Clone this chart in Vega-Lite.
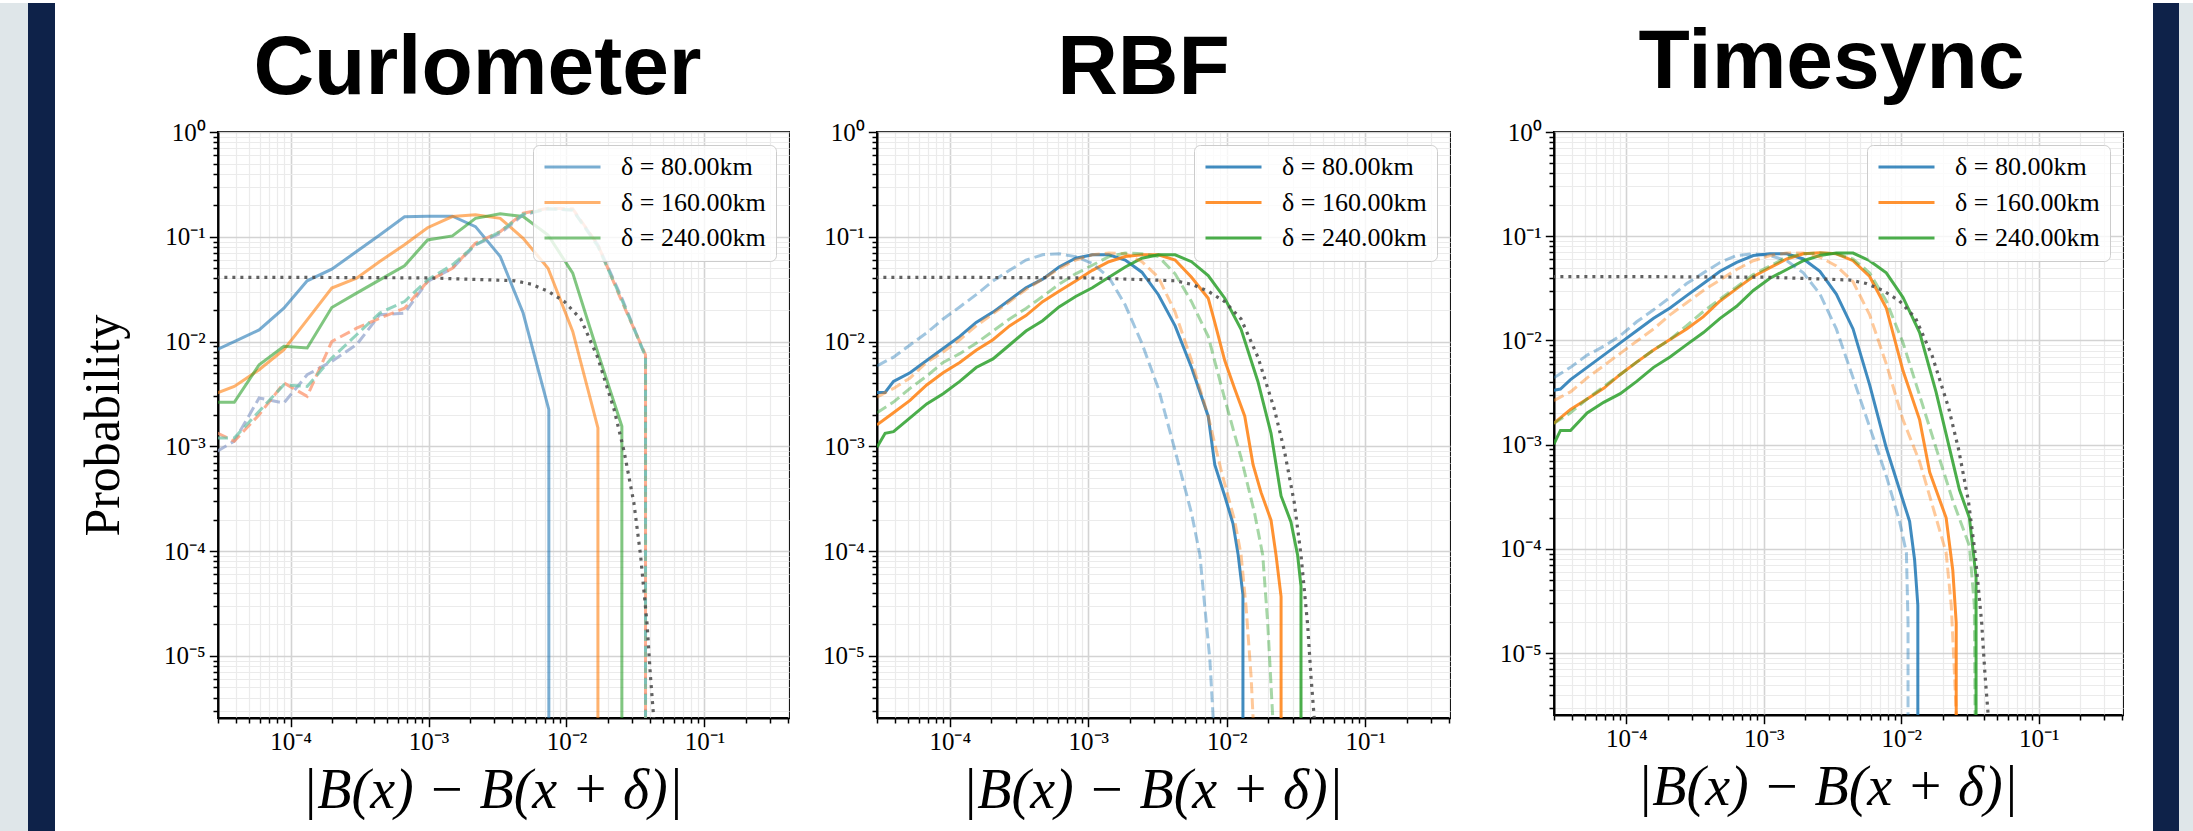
{
  "$schema": "https://vega.github.io/schema/vega-lite/v6.json",
  "padding": 0,
  "background": "white",
  "spacing": 0,
  "config": {"view": {"stroke": "black", "strokeWidth": 2}, "concat": {"spacing": 0}, "font": "Liberation Serif"},
  "resolve": {"scale": {"color": "independent", "stroke": "independent", "x": "independent", "y": "independent"}},
  "datasets": {
    "curves": [
      {"m":"ref","k":"r","d":"ref","x":2.9e-5,"y":0.041},{"m":"ref","k":"r","d":"ref","x":1e-4,"y":0.041},{"m":"ref","k":"r","d":"ref","x":1e-3,"y":0.0405},{"m":"ref","k":"r","d":"ref","x":2.44e-3,"y":0.039},{"m":"ref","k":"r","d":"ref","x":4.24e-3,"y":0.038},{"m":"ref","k":"r","d":"ref","x":5.57e-3,"y":0.0352},{"m":"ref","k":"r","d":"ref","x":7.35e-3,"y":0.0302},{"m":"ref","k":"r","d":"ref","x":9.68e-3,"y":0.024},{"m":"ref","k":"r","d":"ref","x":1.27e-2,"y":0.0164},{"m":"ref","k":"r","d":"ref","x":1.68e-2,"y":0.0071},{"m":"ref","k":"r","d":"ref","x":2.21e-2,"y":0.00226},{"m":"ref","k":"r","d":"ref","x":2.61e-2,"y":0.000906},{"m":"ref","k":"r","d":"ref","x":3.08e-2,"y":0.000288},{"m":"ref","k":"r","d":"ref","x":3.44e-2,"y":0.000092},{"m":"ref","k":"r","d":"ref","x":3.84e-2,"y":0.00002},{"m":"ref","k":"r","d":"ref","x":4.06e-2,"y":0.00000638},{"m":"ref","k":"r","d":"ref","x":4.35e-2,"y":0.000002},

      {"m":"C","k":"s","d":"80","x":2.93e-5,"y":8.36e-3},{"m":"C","k":"s","d":"80","x":3.91e-5,"y":1.0e-2},{"m":"C","k":"s","d":"80","x":5.92e-5,"y":1.29e-2},{"m":"C","k":"s","d":"80","x":8.95e-5,"y":2.08e-2},{"m":"C","k":"s","d":"80","x":1.32e-4,"y":3.8e-2},{"m":"C","k":"s","d":"80","x":1.99e-4,"y":4.91e-2},{"m":"C","k":"s","d":"80","x":3.01e-4,"y":7.23e-2},{"m":"C","k":"s","d":"80","x":4.43e-4,"y":0.104},{"m":"C","k":"s","d":"80","x":6.7e-4,"y":0.155},{"m":"C","k":"s","d":"80","x":9.84e-4,"y":0.157},{"m":"C","k":"s","d":"80","x":1.49e-3,"y":0.157},{"m":"C","k":"s","d":"80","x":2.19e-3,"y":0.125},{"m":"C","k":"s","d":"80","x":3.31e-3,"y":6.49e-2},{"m":"C","k":"s","d":"80","x":4.85e-3,"y":1.87e-2},{"m":"C","k":"s","d":"80","x":7.45e-3,"y":2.24e-3},{"m":"C","k":"s","d":"80","x":7.45e-3,"y":1e-7},

      {"m":"C","k":"s","d":"160","x":2.93e-5,"y":3.23e-3},{"m":"C","k":"s","d":"160","x":3.91e-5,"y":3.73e-3},{"m":"C","k":"s","d":"160","x":5.92e-5,"y":5.38e-3},{"m":"C","k":"s","d":"160","x":8.95e-5,"y":8.36e-3},{"m":"C","k":"s","d":"160","x":1.32e-4,"y":1.61e-2},{"m":"C","k":"s","d":"160","x":1.99e-4,"y":3.24e-2},{"m":"C","k":"s","d":"160","x":3.01e-4,"y":4.03e-2},{"m":"C","k":"s","d":"160","x":4.43e-4,"y":5.81e-2},{"m":"C","k":"s","d":"160","x":6.7e-4,"y":8.38e-2},{"m":"C","k":"s","d":"160","x":9.84e-4,"y":0.122},{"m":"C","k":"s","d":"160","x":1.49e-3,"y":0.156},{"m":"C","k":"s","d":"160","x":2.19e-3,"y":0.162},{"m":"C","k":"s","d":"160","x":3.31e-3,"y":0.15},{"m":"C","k":"s","d":"160","x":4.85e-3,"y":9.68e-2},{"m":"C","k":"s","d":"160","x":7.35e-3,"y":5.01e-2},{"m":"C","k":"s","d":"160","x":1.11e-2,"y":1.25e-2},{"m":"C","k":"s","d":"160","x":1.69e-2,"y":1.5e-3},{"m":"C","k":"s","d":"160","x":1.69e-2,"y":1e-7},

      {"m":"C","k":"s","d":"240","x":2.93e-5,"y":2.63e-3},{"m":"C","k":"s","d":"240","x":3.91e-5,"y":2.63e-3},{"m":"C","k":"s","d":"240","x":5.92e-5,"y":6.01e-3},{"m":"C","k":"s","d":"240","x":8.95e-5,"y":8.99e-3},{"m":"C","k":"s","d":"240","x":1.32e-4,"y":8.67e-3},{"m":"C","k":"s","d":"240","x":1.99e-4,"y":2.11e-2},{"m":"C","k":"s","d":"240","x":3.01e-4,"y":2.9e-2},{"m":"C","k":"s","d":"240","x":4.43e-4,"y":3.88e-2},{"m":"C","k":"s","d":"240","x":6.7e-4,"y":5.28e-2},{"m":"C","k":"s","d":"240","x":9.84e-4,"y":9.33e-2},{"m":"C","k":"s","d":"240","x":1.49e-3,"y":0.102},{"m":"C","k":"s","d":"240","x":2.19e-3,"y":0.15},{"m":"C","k":"s","d":"240","x":3.31e-3,"y":0.166},{"m":"C","k":"s","d":"240","x":4.85e-3,"y":0.156},{"m":"C","k":"s","d":"240","x":7.35e-3,"y":0.104},{"m":"C","k":"s","d":"240","x":1.11e-2,"y":4.5e-2},{"m":"C","k":"s","d":"240","x":1.69e-2,"y":7.76e-3},{"m":"C","k":"s","d":"240","x":2.52e-2,"y":1.55e-3},{"m":"C","k":"s","d":"240","x":2.52e-2,"y":1e-7},

      {"m":"C","k":"d","d":"80","x":2.93e-5,"y":8.97e-4},{"m":"C","k":"d","d":"80","x":3.91e-5,"y":1.12e-3},{"m":"C","k":"d","d":"80","x":5.92e-5,"y":2.89e-3},{"m":"C","k":"d","d":"80","x":8.95e-5,"y":2.59e-3},{"m":"C","k":"d","d":"80","x":1.32e-4,"y":4.82e-3},{"m":"C","k":"d","d":"80","x":1.99e-4,"y":6.47e-3},{"m":"C","k":"d","d":"80","x":3.01e-4,"y":9.33e-3},{"m":"C","k":"d","d":"80","x":4.43e-4,"y":1.8e-2},{"m":"C","k":"d","d":"80","x":6.7e-4,"y":1.87e-2},{"m":"C","k":"d","d":"80","x":9.84e-4,"y":3.74e-2},{"m":"C","k":"d","d":"80","x":1.49e-3,"y":5.01e-2},{"m":"C","k":"d","d":"80","x":2.19e-3,"y":8.38e-2},{"m":"C","k":"d","d":"80","x":3.31e-3,"y":0.108},{"m":"C","k":"d","d":"80","x":4.85e-3,"y":0.162},{"m":"C","k":"d","d":"80","x":7.35e-3,"y":0.185},{"m":"C","k":"d","d":"80","x":1.11e-2,"y":0.18},{"m":"C","k":"d","d":"80","x":1.69e-2,"y":8.38e-2},{"m":"C","k":"d","d":"80","x":2.52e-2,"y":2.6e-2},{"m":"C","k":"d","d":"80","x":3.74e-2,"y":7.21e-3},{"m":"C","k":"d","d":"80","x":3.74e-2,"y":1e-7},

      {"m":"C","k":"d","d":"160","x":2.93e-5,"y":1.34e-3},{"m":"C","k":"d","d":"160","x":3.91e-5,"y":1.12e-3},{"m":"C","k":"d","d":"160","x":5.92e-5,"y":2.0e-3},{"m":"C","k":"d","d":"160","x":8.95e-5,"y":4.02e-3},{"m":"C","k":"d","d":"160","x":1.32e-4,"y":3.0e-3},{"m":"C","k":"d","d":"160","x":1.99e-4,"y":1.0e-2},{"m":"C","k":"d","d":"160","x":3.01e-4,"y":1.34e-2},{"m":"C","k":"d","d":"160","x":4.43e-4,"y":1.67e-2},{"m":"C","k":"d","d":"160","x":6.7e-4,"y":2.08e-2},{"m":"C","k":"d","d":"160","x":9.84e-4,"y":3.74e-2},{"m":"C","k":"d","d":"160","x":1.49e-3,"y":5.01e-2},{"m":"C","k":"d","d":"160","x":2.19e-3,"y":8.69e-2},{"m":"C","k":"d","d":"160","x":3.31e-3,"y":0.112},{"m":"C","k":"d","d":"160","x":4.85e-3,"y":0.168},{"m":"C","k":"d","d":"160","x":7.35e-3,"y":0.187},{"m":"C","k":"d","d":"160","x":1.11e-2,"y":0.185},{"m":"C","k":"d","d":"160","x":1.69e-2,"y":8.38e-2},{"m":"C","k":"d","d":"160","x":2.52e-2,"y":2.41e-2},{"m":"C","k":"d","d":"160","x":3.74e-2,"y":7.48e-3},{"m":"C","k":"d","d":"160","x":3.74e-2,"y":1e-7},

      {"m":"C","k":"d","d":"240","x":2.93e-5,"y":1.2e-3},{"m":"C","k":"d","d":"240","x":3.91e-5,"y":1.2e-3},{"m":"C","k":"d","d":"240","x":5.92e-5,"y":2.16e-3},{"m":"C","k":"d","d":"240","x":8.95e-5,"y":3.87e-3},{"m":"C","k":"d","d":"240","x":1.32e-4,"y":3.73e-3},{"m":"C","k":"d","d":"240","x":1.99e-4,"y":6.95e-3},{"m":"C","k":"d","d":"240","x":3.01e-4,"y":1.16e-2},{"m":"C","k":"d","d":"240","x":4.43e-4,"y":1.87e-2},{"m":"C","k":"d","d":"240","x":6.7e-4,"y":2.41e-2},{"m":"C","k":"d","d":"240","x":9.84e-4,"y":3.88e-2},{"m":"C","k":"d","d":"240","x":1.49e-3,"y":5.4e-2},{"m":"C","k":"d","d":"240","x":2.19e-3,"y":8.38e-2},{"m":"C","k":"d","d":"240","x":3.31e-3,"y":0.112},{"m":"C","k":"d","d":"240","x":4.85e-3,"y":0.164},{"m":"C","k":"d","d":"240","x":7.35e-3,"y":0.185},{"m":"C","k":"d","d":"240","x":1.11e-2,"y":0.18},{"m":"C","k":"d","d":"240","x":1.69e-2,"y":8.07e-2},{"m":"C","k":"d","d":"240","x":2.52e-2,"y":2.5e-2},{"m":"C","k":"d","d":"240","x":3.74e-2,"y":7.21e-3},{"m":"C","k":"d","d":"240","x":3.74e-2,"y":1e-7},

      {"m":"R","k":"s","d":"80","x":2.98e-5,"y":3.26e-3},{"m":"R","k":"s","d":"80","x":3.41e-5,"y":3.26e-3},{"m":"R","k":"s","d":"80","x":3.92e-5,"y":4.16e-3},{"m":"R","k":"s","d":"80","x":5.16e-5,"y":5.04e-3},{"m":"R","k":"s","d":"80","x":6.81e-5,"y":6.58e-3},{"m":"R","k":"s","d":"80","x":8.95e-5,"y":8.59e-3},{"m":"R","k":"s","d":"80","x":1.18e-4,"y":1.12e-2},{"m":"R","k":"s","d":"80","x":1.55e-4,"y":1.52e-2},{"m":"R","k":"s","d":"80","x":2.05e-4,"y":1.91e-2},{"m":"R","k":"s","d":"80","x":2.7e-4,"y":2.49e-2},{"m":"R","k":"s","d":"80","x":3.55e-4,"y":3.26e-2},{"m":"R","k":"s","d":"80","x":4.68e-4,"y":3.94e-2},{"m":"R","k":"s","d":"80","x":6.15e-4,"y":5.15e-2},{"m":"R","k":"s","d":"80","x":8.11e-4,"y":6.24e-2},{"m":"R","k":"s","d":"80","x":1.07e-3,"y":6.73e-2},{"m":"R","k":"s","d":"80","x":1.41e-3,"y":6.73e-2},{"m":"R","k":"s","d":"80","x":1.85e-3,"y":6.0e-2},{"m":"R","k":"s","d":"80","x":2.44e-3,"y":4.59e-2},{"m":"R","k":"s","d":"80","x":3.21e-3,"y":2.8e-2},{"m":"R","k":"s","d":"80","x":4.24e-3,"y":1.41e-2},{"m":"R","k":"s","d":"80","x":5.57e-3,"y":5.65e-3},{"m":"R","k":"s","d":"80","x":7.35e-3,"y":1.94e-3},{"m":"R","k":"s","d":"80","x":8.2e-3,"y":6.68e-4},{"m":"R","k":"s","d":"80","x":9.68e-3,"y":3.36e-4},{"m":"R","k":"s","d":"80","x":1.11e-2,"y":1.83e-4},{"m":"R","k":"s","d":"80","x":1.21e-2,"y":9.2e-5},{"m":"R","k":"s","d":"80","x":1.31e-2,"y":3.83e-5},{"m":"R","k":"s","d":"80","x":1.31e-2,"y":1e-7},

      {"m":"R","k":"s","d":"160","x":2.98e-5,"y":1.6e-3},{"m":"R","k":"s","d":"160","x":3.92e-5,"y":2.09e-3},{"m":"R","k":"s","d":"160","x":5.16e-5,"y":2.74e-3},{"m":"R","k":"s","d":"160","x":6.81e-5,"y":3.85e-3},{"m":"R","k":"s","d":"160","x":8.95e-5,"y":5.04e-3},{"m":"R","k":"s","d":"160","x":1.18e-4,"y":6.32e-3},{"m":"R","k":"s","d":"160","x":1.55e-4,"y":8.26e-3},{"m":"R","k":"s","d":"160","x":2.05e-4,"y":1.04e-2},{"m":"R","k":"s","d":"160","x":2.7e-4,"y":1.41e-2},{"m":"R","k":"s","d":"160","x":3.55e-4,"y":1.77e-2},{"m":"R","k":"s","d":"160","x":4.68e-4,"y":2.4e-2},{"m":"R","k":"s","d":"160","x":6.15e-4,"y":3.02e-2},{"m":"R","k":"s","d":"160","x":8.11e-4,"y":3.79e-2},{"m":"R","k":"s","d":"160","x":1.07e-3,"y":4.78e-2},{"m":"R","k":"s","d":"160","x":1.41e-3,"y":5.78e-2},{"m":"R","k":"s","d":"160","x":1.85e-3,"y":6.47e-2},{"m":"R","k":"s","d":"160","x":2.44e-3,"y":6.73e-2},{"m":"R","k":"s","d":"160","x":3.21e-3,"y":6.73e-2},{"m":"R","k":"s","d":"160","x":4.24e-3,"y":6.0e-2},{"m":"R","k":"s","d":"160","x":5.57e-3,"y":4.1e-2},{"m":"R","k":"s","d":"160","x":7.35e-3,"y":2.59e-2},{"m":"R","k":"s","d":"160","x":8.2e-3,"y":1.52e-2},{"m":"R","k":"s","d":"160","x":9.68e-3,"y":6.58e-3},{"m":"R","k":"s","d":"160","x":1.14e-2,"y":3.57e-3},{"m":"R","k":"s","d":"160","x":1.35e-2,"y":1.94e-3},{"m":"R","k":"s","d":"160","x":1.55e-2,"y":6.68e-4},{"m":"R","k":"s","d":"160","x":1.77e-2,"y":3.63e-4},{"m":"R","k":"s","d":"160","x":2.09e-2,"y":1.97e-4},{"m":"R","k":"s","d":"160","x":2.27e-2,"y":9.2e-5},{"m":"R","k":"s","d":"160","x":2.47e-2,"y":3.68e-5},{"m":"R","k":"s","d":"160","x":2.47e-2,"y":1e-7},

      {"m":"R","k":"s","d":"240","x":2.98e-5,"y":9.77e-4},{"m":"R","k":"s","d":"240","x":3.41e-5,"y":1.33e-3},{"m":"R","k":"s","d":"240","x":3.92e-5,"y":1.38e-3},{"m":"R","k":"s","d":"240","x":5.16e-5,"y":1.87e-3},{"m":"R","k":"s","d":"240","x":6.81e-5,"y":2.54e-3},{"m":"R","k":"s","d":"240","x":8.95e-5,"y":3.18e-3},{"m":"R","k":"s","d":"240","x":1.18e-4,"y":4.16e-3},{"m":"R","k":"s","d":"240","x":1.55e-4,"y":5.65e-3},{"m":"R","k":"s","d":"240","x":2.05e-4,"y":6.82e-3},{"m":"R","k":"s","d":"240","x":2.7e-4,"y":9.27e-3},{"m":"R","k":"s","d":"240","x":3.55e-4,"y":1.26e-2},{"m":"R","k":"s","d":"240","x":4.68e-4,"y":1.58e-2},{"m":"R","k":"s","d":"240","x":6.15e-4,"y":2.14e-2},{"m":"R","k":"s","d":"240","x":8.11e-4,"y":2.69e-2},{"m":"R","k":"s","d":"240","x":1.07e-3,"y":3.26e-2},{"m":"R","k":"s","d":"240","x":1.41e-3,"y":4.1e-2},{"m":"R","k":"s","d":"240","x":1.85e-3,"y":5.15e-2},{"m":"R","k":"s","d":"240","x":2.44e-3,"y":6.24e-2},{"m":"R","k":"s","d":"240","x":3.21e-3,"y":6.73e-2},{"m":"R","k":"s","d":"240","x":4.24e-3,"y":6.73e-2},{"m":"R","k":"s","d":"240","x":5.57e-3,"y":5.78e-2},{"m":"R","k":"s","d":"240","x":7.35e-3,"y":4.26e-2},{"m":"R","k":"s","d":"240","x":9.68e-3,"y":2.59e-2},{"m":"R","k":"s","d":"240","x":1.27e-2,"y":1.31e-2},{"m":"R","k":"s","d":"240","x":1.68e-2,"y":4.16e-3},{"m":"R","k":"s","d":"240","x":2.09e-2,"y":1.33e-3},{"m":"R","k":"s","d":"240","x":2.47e-2,"y":3.36e-4},{"m":"R","k":"s","d":"240","x":2.91e-2,"y":1.9e-4},{"m":"R","k":"s","d":"240","x":3.25e-2,"y":9.2e-5},{"m":"R","k":"s","d":"240","x":3.44e-2,"y":4.63e-5},{"m":"R","k":"s","d":"240","x":3.44e-2,"y":1e-7},

      {"m":"R","k":"d","d":"80","x":2.98e-5,"y":5.86e-3},{"m":"R","k":"d","d":"80","x":3.92e-5,"y":7.1e-3},{"m":"R","k":"d","d":"80","x":5.16e-5,"y":9.27e-3},{"m":"R","k":"d","d":"80","x":6.81e-5,"y":1.21e-2},{"m":"R","k":"d","d":"80","x":8.95e-5,"y":1.64e-2},{"m":"R","k":"d","d":"80","x":1.18e-4,"y":2.14e-2},{"m":"R","k":"d","d":"80","x":1.55e-4,"y":2.8e-2},{"m":"R","k":"d","d":"80","x":2.05e-4,"y":3.79e-2},{"m":"R","k":"d","d":"80","x":2.7e-4,"y":4.78e-2},{"m":"R","k":"d","d":"80","x":3.55e-4,"y":6.0e-2},{"m":"R","k":"d","d":"80","x":4.68e-4,"y":6.73e-2},{"m":"R","k":"d","d":"80","x":6.15e-4,"y":6.89e-2},{"m":"R","k":"d","d":"80","x":8.11e-4,"y":6.47e-2},{"m":"R","k":"d","d":"80","x":1.07e-3,"y":5.56e-2},{"m":"R","k":"d","d":"80","x":1.41e-3,"y":4.1e-2},{"m":"R","k":"d","d":"80","x":1.85e-3,"y":2.23e-2},{"m":"R","k":"d","d":"80","x":2.44e-3,"y":9.62e-3},{"m":"R","k":"d","d":"80","x":3.21e-3,"y":3.57e-3},{"m":"R","k":"d","d":"80","x":4.24e-3,"y":9.06e-4},{"m":"R","k":"d","d":"80","x":5.57e-3,"y":2.3e-4},{"m":"R","k":"d","d":"80","x":6.4e-3,"y":9.2e-5},{"m":"R","k":"d","d":"80","x":6.95e-3,"y":2.93e-5},{"m":"R","k":"d","d":"80","x":7.55e-3,"y":9.33e-6},{"m":"R","k":"d","d":"80","x":7.98e-3,"y":2.6e-6},{"m":"R","k":"d","d":"80","x":8.0e-3,"y":1e-7},

      {"m":"R","k":"d","d":"160","x":2.98e-5,"y":2.95e-3},{"m":"R","k":"d","d":"160","x":3.92e-5,"y":3.57e-3},{"m":"R","k":"d","d":"160","x":5.16e-5,"y":4.49e-3},{"m":"R","k":"d","d":"160","x":6.81e-5,"y":6.32e-3},{"m":"R","k":"d","d":"160","x":8.95e-5,"y":7.96e-3},{"m":"R","k":"d","d":"160","x":1.18e-4,"y":1.04e-2},{"m":"R","k":"d","d":"160","x":1.55e-4,"y":1.41e-2},{"m":"R","k":"d","d":"160","x":2.05e-4,"y":1.84e-2},{"m":"R","k":"d","d":"160","x":2.7e-4,"y":2.4e-2},{"m":"R","k":"d","d":"160","x":3.55e-4,"y":3.14e-2},{"m":"R","k":"d","d":"160","x":4.68e-4,"y":3.94e-2},{"m":"R","k":"d","d":"160","x":6.15e-4,"y":4.95e-2},{"m":"R","k":"d","d":"160","x":8.11e-4,"y":6.0e-2},{"m":"R","k":"d","d":"160","x":1.07e-3,"y":6.73e-2},{"m":"R","k":"d","d":"160","x":1.41e-3,"y":6.98e-2},{"m":"R","k":"d","d":"160","x":1.85e-3,"y":6.89e-2},{"m":"R","k":"d","d":"160","x":2.44e-3,"y":5.78e-2},{"m":"R","k":"d","d":"160","x":3.21e-3,"y":4.1e-2},{"m":"R","k":"d","d":"160","x":4.24e-3,"y":1.91e-2},{"m":"R","k":"d","d":"160","x":5.57e-3,"y":6.58e-3},{"m":"R","k":"d","d":"160","x":7.35e-3,"y":1.94e-3},{"m":"R","k":"d","d":"160","x":9.16e-3,"y":5.73e-4},{"m":"R","k":"d","d":"160","x":1.14e-2,"y":1.97e-4},{"m":"R","k":"d","d":"160","x":1.27e-2,"y":9.2e-5},{"m":"R","k":"d","d":"160","x":1.38e-2,"y":2.93e-5},{"m":"R","k":"d","d":"160","x":1.5e-2,"y":6.38e-6},{"m":"R","k":"d","d":"160","x":1.55e-2,"y":2.6e-6},{"m":"R","k":"d","d":"160","x":1.55e-2,"y":1e-7},

      {"m":"R","k":"d","d":"240","x":2.98e-5,"y":2.09e-3},{"m":"R","k":"d","d":"240","x":3.92e-5,"y":2.64e-3},{"m":"R","k":"d","d":"240","x":5.16e-5,"y":3.57e-3},{"m":"R","k":"d","d":"240","x":6.81e-5,"y":4.67e-3},{"m":"R","k":"d","d":"240","x":8.95e-5,"y":6.32e-3},{"m":"R","k":"d","d":"240","x":1.18e-4,"y":7.66e-3},{"m":"R","k":"d","d":"240","x":1.55e-4,"y":9.62e-3},{"m":"R","k":"d","d":"240","x":2.05e-4,"y":1.26e-2},{"m":"R","k":"d","d":"240","x":2.7e-4,"y":1.64e-2},{"m":"R","k":"d","d":"240","x":3.55e-4,"y":2.07e-2},{"m":"R","k":"d","d":"240","x":4.68e-4,"y":2.69e-2},{"m":"R","k":"d","d":"240","x":6.15e-4,"y":3.52e-2},{"m":"R","k":"d","d":"240","x":8.11e-4,"y":4.43e-2},{"m":"R","k":"d","d":"240","x":1.07e-3,"y":5.35e-2},{"m":"R","k":"d","d":"240","x":1.41e-3,"y":6.47e-2},{"m":"R","k":"d","d":"240","x":1.85e-3,"y":6.98e-2},{"m":"R","k":"d","d":"240","x":2.44e-3,"y":6.89e-2},{"m":"R","k":"d","d":"240","x":3.21e-3,"y":6.47e-2},{"m":"R","k":"d","d":"240","x":4.24e-3,"y":4.43e-2},{"m":"R","k":"d","d":"240","x":5.57e-3,"y":2.4e-2},{"m":"R","k":"d","d":"240","x":7.35e-3,"y":1.12e-2},{"m":"R","k":"d","d":"240","x":9.68e-3,"y":2.84e-3},{"m":"R","k":"d","d":"240","x":1.27e-2,"y":7.78e-4},{"m":"R","k":"d","d":"240","x":1.59e-2,"y":2.3e-4},{"m":"R","k":"d","d":"240","x":1.82e-2,"y":9.2e-5},{"m":"R","k":"d","d":"240","x":1.98e-2,"y":2.0e-5},{"m":"R","k":"d","d":"240","x":2.15e-2,"y":2.6e-6},{"m":"R","k":"d","d":"240","x":2.15e-2,"y":1e-7},

      {"m":"T","k":"s","d":"80","x":2.97e-5,"y":3.33e-3},{"m":"T","k":"s","d":"80","x":3.32e-5,"y":3.42e-3},{"m":"T","k":"s","d":"80","x":3.93e-5,"y":4.21e-3},{"m":"T","k":"s","d":"80","x":5.19e-5,"y":5.52e-3},{"m":"T","k":"s","d":"80","x":6.85e-5,"y":7.23e-3},{"m":"T","k":"s","d":"80","x":9.04e-5,"y":9.48e-3},{"m":"T","k":"s","d":"80","x":1.19e-4,"y":1.24e-2},{"m":"T","k":"s","d":"80","x":1.58e-4,"y":1.63e-2},{"m":"T","k":"s","d":"80","x":2.08e-4,"y":2.05e-2},{"m":"T","k":"s","d":"80","x":2.75e-4,"y":2.69e-2},{"m":"T","k":"s","d":"80","x":3.64e-4,"y":3.52e-2},{"m":"T","k":"s","d":"80","x":4.81e-4,"y":4.61e-2},{"m":"T","k":"s","d":"80","x":6.35e-4,"y":5.6e-2},{"m":"T","k":"s","d":"80","x":8.39e-4,"y":6.53e-2},{"m":"T","k":"s","d":"80","x":1.11e-3,"y":6.79e-2},{"m":"T","k":"s","d":"80","x":1.47e-3,"y":6.79e-2},{"m":"T","k":"s","d":"80","x":1.94e-3,"y":6.05e-2},{"m":"T","k":"s","d":"80","x":2.56e-3,"y":4.61e-2},{"m":"T","k":"s","d":"80","x":3.37e-3,"y":2.79e-2},{"m":"T","k":"s","d":"80","x":4.46e-3,"y":1.29e-2},{"m":"T","k":"s","d":"80","x":5.89e-3,"y":3.75e-3},{"m":"T","k":"s","d":"80","x":7.78e-3,"y":9.33e-4},{"m":"T","k":"s","d":"80","x":9.72e-3,"y":3.69e-4},{"m":"T","k":"s","d":"80","x":1.15e-2,"y":1.84e-4},{"m":"T","k":"s","d":"80","x":1.25e-2,"y":7.87e-5},{"m":"T","k":"s","d":"80","x":1.32e-2,"y":2.88e-5},{"m":"T","k":"s","d":"80","x":1.32e-2,"y":1e-7},

      {"m":"T","k":"s","d":"160","x":2.97e-5,"y":1.6e-3},{"m":"T","k":"s","d":"160","x":3.93e-5,"y":2.18e-3},{"m":"T","k":"s","d":"160","x":5.19e-5,"y":2.75e-3},{"m":"T","k":"s","d":"160","x":6.85e-5,"y":3.47e-3},{"m":"T","k":"s","d":"160","x":9.04e-5,"y":4.72e-3},{"m":"T","k":"s","d":"160","x":1.19e-4,"y":6.19e-3},{"m":"T","k":"s","d":"160","x":1.58e-4,"y":8.11e-3},{"m":"T","k":"s","d":"160","x":2.08e-4,"y":1.02e-2},{"m":"T","k":"s","d":"160","x":2.75e-4,"y":1.29e-2},{"m":"T","k":"s","d":"160","x":3.64e-4,"y":1.69e-2},{"m":"T","k":"s","d":"160","x":4.81e-4,"y":2.39e-2},{"m":"T","k":"s","d":"160","x":6.35e-4,"y":3.14e-2},{"m":"T","k":"s","d":"160","x":8.39e-4,"y":4.11e-2},{"m":"T","k":"s","d":"160","x":1.11e-3,"y":4.99e-2},{"m":"T","k":"s","d":"160","x":1.47e-3,"y":6.05e-2},{"m":"T","k":"s","d":"160","x":1.94e-3,"y":6.79e-2},{"m":"T","k":"s","d":"160","x":2.56e-3,"y":6.95e-2},{"m":"T","k":"s","d":"160","x":3.37e-3,"y":6.79e-2},{"m":"T","k":"s","d":"160","x":4.46e-3,"y":5.82e-2},{"m":"T","k":"s","d":"160","x":5.89e-3,"y":4.11e-2},{"m":"T","k":"s","d":"160","x":7.78e-3,"y":2.05e-2},{"m":"T","k":"s","d":"160","x":1.03e-2,"y":5.11e-3},{"m":"T","k":"s","d":"160","x":1.36e-2,"y":1.73e-3},{"m":"T","k":"s","d":"160","x":1.61e-2,"y":5.43e-4},{"m":"T","k":"s","d":"160","x":2.12e-2,"y":1.99e-4},{"m":"T","k":"s","d":"160","x":2.37e-2,"y":6.24e-5},{"m":"T","k":"s","d":"160","x":2.51e-2,"y":1.96e-5},{"m":"T","k":"s","d":"160","x":2.51e-2,"y":1e-7},

      {"m":"T","k":"s","d":"240","x":2.97e-5,"y":1.01e-3},{"m":"T","k":"s","d":"240","x":3.32e-5,"y":1.37e-3},{"m":"T","k":"s","d":"240","x":3.93e-5,"y":1.37e-3},{"m":"T","k":"s","d":"240","x":5.19e-5,"y":2.02e-3},{"m":"T","k":"s","d":"240","x":6.85e-5,"y":2.55e-3},{"m":"T","k":"s","d":"240","x":9.04e-5,"y":3.09e-3},{"m":"T","k":"s","d":"240","x":1.19e-4,"y":4.05e-3},{"m":"T","k":"s","d":"240","x":1.58e-4,"y":5.52e-3},{"m":"T","k":"s","d":"240","x":2.08e-4,"y":6.95e-3},{"m":"T","k":"s","d":"240","x":2.75e-4,"y":9.12e-3},{"m":"T","k":"s","d":"240","x":3.64e-4,"y":1.19e-2},{"m":"T","k":"s","d":"240","x":4.81e-4,"y":1.63e-2},{"m":"T","k":"s","d":"240","x":6.35e-4,"y":2.13e-2},{"m":"T","k":"s","d":"240","x":8.39e-4,"y":3.02e-2},{"m":"T","k":"s","d":"240","x":1.11e-3,"y":3.95e-2},{"m":"T","k":"s","d":"240","x":1.47e-3,"y":4.8e-2},{"m":"T","k":"s","d":"240","x":1.94e-3,"y":5.82e-2},{"m":"T","k":"s","d":"240","x":2.56e-3,"y":6.53e-2},{"m":"T","k":"s","d":"240","x":3.37e-3,"y":6.9e-2},{"m":"T","k":"s","d":"240","x":4.46e-3,"y":6.9e-2},{"m":"T","k":"s","d":"240","x":5.89e-3,"y":5.82e-2},{"m":"T","k":"s","d":"240","x":7.78e-3,"y":4.45e-2},{"m":"T","k":"s","d":"240","x":1.03e-2,"y":2.59e-2},{"m":"T","k":"s","d":"240","x":1.36e-2,"y":1.19e-2},{"m":"T","k":"s","d":"240","x":1.79e-2,"y":3.21e-3},{"m":"T","k":"s","d":"240","x":2.24e-2,"y":9.33e-4},{"m":"T","k":"s","d":"240","x":2.65e-2,"y":3.69e-4},{"m":"T","k":"s","d":"240","x":3.13e-2,"y":1.99e-4},{"m":"T","k":"s","d":"240","x":3.5e-2,"y":5.35e-5},{"m":"T","k":"s","d":"240","x":3.5e-2,"y":1e-7},

      {"m":"T","k":"d","d":"80","x":2.97e-5,"y":4.38e-3},{"m":"T","k":"d","d":"80","x":3.93e-5,"y":5.52e-3},{"m":"T","k":"d","d":"80","x":5.19e-5,"y":7.23e-3},{"m":"T","k":"d","d":"80","x":6.85e-5,"y":8.77e-3},{"m":"T","k":"d","d":"80","x":9.04e-5,"y":1.11e-2},{"m":"T","k":"d","d":"80","x":1.19e-4,"y":1.51e-2},{"m":"T","k":"d","d":"80","x":1.58e-4,"y":1.97e-2},{"m":"T","k":"d","d":"80","x":2.08e-4,"y":2.59e-2},{"m":"T","k":"d","d":"80","x":2.75e-4,"y":3.52e-2},{"m":"T","k":"d","d":"80","x":3.64e-4,"y":4.45e-2},{"m":"T","k":"d","d":"80","x":4.81e-4,"y":5.6e-2},{"m":"T","k":"d","d":"80","x":6.35e-4,"y":6.53e-2},{"m":"T","k":"d","d":"80","x":8.39e-4,"y":6.79e-2},{"m":"T","k":"d","d":"80","x":1.11e-3,"y":6.53e-2},{"m":"T","k":"d","d":"80","x":1.47e-3,"y":5.82e-2},{"m":"T","k":"d","d":"80","x":1.94e-3,"y":4.45e-2},{"m":"T","k":"d","d":"80","x":2.56e-3,"y":2.79e-2},{"m":"T","k":"d","d":"80","x":3.37e-3,"y":1.29e-2},{"m":"T","k":"d","d":"80","x":4.46e-3,"y":4.38e-3},{"m":"T","k":"d","d":"80","x":5.89e-3,"y":1.48e-3},{"m":"T","k":"d","d":"80","x":7.78e-3,"y":5.02e-4},{"m":"T","k":"d","d":"80","x":9.72e-3,"y":1.84e-4},{"m":"T","k":"d","d":"80","x":1.09e-2,"y":9.18e-5},{"m":"T","k":"d","d":"80","x":1.12e-2,"y":1.96e-5},{"m":"T","k":"d","d":"80","x":1.12e-2,"y":1e-7},

      {"m":"T","k":"d","d":"160","x":2.97e-5,"y":2.65e-3},{"m":"T","k":"d","d":"160","x":3.93e-5,"y":3.21e-3},{"m":"T","k":"d","d":"160","x":5.19e-5,"y":4.38e-3},{"m":"T","k":"d","d":"160","x":6.85e-5,"y":5.73e-3},{"m":"T","k":"d","d":"160","x":9.04e-5,"y":7.52e-3},{"m":"T","k":"d","d":"160","x":1.19e-4,"y":9.84e-3},{"m":"T","k":"d","d":"160","x":1.58e-4,"y":1.29e-2},{"m":"T","k":"d","d":"160","x":2.08e-4,"y":1.76e-2},{"m":"T","k":"d","d":"160","x":2.75e-4,"y":2.3e-2},{"m":"T","k":"d","d":"160","x":3.64e-4,"y":3.02e-2},{"m":"T","k":"d","d":"160","x":4.81e-4,"y":3.81e-2},{"m":"T","k":"d","d":"160","x":6.35e-4,"y":4.8e-2},{"m":"T","k":"d","d":"160","x":8.39e-4,"y":5.82e-2},{"m":"T","k":"d","d":"160","x":1.11e-3,"y":6.53e-2},{"m":"T","k":"d","d":"160","x":1.47e-3,"y":6.9e-2},{"m":"T","k":"d","d":"160","x":1.94e-3,"y":6.9e-2},{"m":"T","k":"d","d":"160","x":2.56e-3,"y":6.3e-2},{"m":"T","k":"d","d":"160","x":3.37e-3,"y":5.19e-2},{"m":"T","k":"d","d":"160","x":4.46e-3,"y":3.66e-2},{"m":"T","k":"d","d":"160","x":5.89e-3,"y":1.76e-2},{"m":"T","k":"d","d":"160","x":7.78e-3,"y":5.96e-3},{"m":"T","k":"d","d":"160","x":1.03e-2,"y":1.73e-3},{"m":"T","k":"d","d":"160","x":1.36e-2,"y":6.86e-4},{"m":"T","k":"d","d":"160","x":1.79e-2,"y":1.99e-4},{"m":"T","k":"d","d":"160","x":2.12e-2,"y":9.18e-5},{"m":"T","k":"d","d":"160","x":2.31e-2,"y":2.88e-5},{"m":"T","k":"d","d":"160","x":2.44e-2,"y":6.15e-6},{"m":"T","k":"d","d":"160","x":2.51e-2,"y":2.6e-6},{"m":"T","k":"d","d":"160","x":2.51e-2,"y":1e-7},

      {"m":"T","k":"d","d":"240","x":2.97e-5,"y":1.6e-3},{"m":"T","k":"d","d":"240","x":3.93e-5,"y":2.02e-3},{"m":"T","k":"d","d":"240","x":5.19e-5,"y":2.75e-3},{"m":"T","k":"d","d":"240","x":6.85e-5,"y":3.61e-3},{"m":"T","k":"d","d":"240","x":9.04e-5,"y":4.72e-3},{"m":"T","k":"d","d":"240","x":1.19e-4,"y":6.19e-3},{"m":"T","k":"d","d":"240","x":1.58e-4,"y":8.11e-3},{"m":"T","k":"d","d":"240","x":2.08e-4,"y":1.02e-2},{"m":"T","k":"d","d":"240","x":2.75e-4,"y":1.39e-2},{"m":"T","k":"d","d":"240","x":3.64e-4,"y":1.9e-2},{"m":"T","k":"d","d":"240","x":4.81e-4,"y":2.49e-2},{"m":"T","k":"d","d":"240","x":6.35e-4,"y":3.26e-2},{"m":"T","k":"d","d":"240","x":8.39e-4,"y":4.28e-2},{"m":"T","k":"d","d":"240","x":1.11e-3,"y":5.19e-2},{"m":"T","k":"d","d":"240","x":1.47e-3,"y":6.3e-2},{"m":"T","k":"d","d":"240","x":1.94e-3,"y":6.79e-2},{"m":"T","k":"d","d":"240","x":2.56e-3,"y":6.9e-2},{"m":"T","k":"d","d":"240","x":3.37e-3,"y":6.79e-2},{"m":"T","k":"d","d":"240","x":4.46e-3,"y":6.05e-2},{"m":"T","k":"d","d":"240","x":5.89e-3,"y":4.45e-2},{"m":"T","k":"d","d":"240","x":7.78e-3,"y":2.39e-2},{"m":"T","k":"d","d":"240","x":1.03e-2,"y":9.48e-3},{"m":"T","k":"d","d":"240","x":1.36e-2,"y":2.97e-3},{"m":"T","k":"d","d":"240","x":1.79e-2,"y":9.33e-4},{"m":"T","k":"d","d":"240","x":2.37e-2,"y":2.92e-4},{"m":"T","k":"d","d":"240","x":3.13e-2,"y":1.07e-4},{"m":"T","k":"d","d":"240","x":3.4e-2,"y":2.88e-5},{"m":"T","k":"d","d":"240","x":3.5e-2,"y":1e-7}
    ]
  },
  "hconcat": [
    {"width": 28, "height": 831, "data": {"values": [{}]}, "mark": {"type": "point", "opacity": 0}, "encoding": {}, "view": {"fill": "#dfe6e9", "stroke": null}},
    {"width": 27, "height": 831, "data": {"values": [{}]}, "mark": {"type": "point", "opacity": 0}, "encoding": {}, "view": {"fill": "#0e2249", "stroke": null}},
    {"width": 22, "height": 1, "data": {"values": [{}]}, "mark": {"type": "point", "opacity": 0}, "encoding": {}, "view": {"stroke": null}},
    {
      "spacing": 0,
      "resolve": {"scale": {"color": "independent", "stroke": "independent", "x": "independent", "y": "independent"}},
      "vconcat": [
        {"width": 1, "height": 16, "data": {"values": [{}]}, "mark": {"type": "point", "opacity": 0}, "encoding": {}, "view": {"stroke": null}},
        {
          "spacing": 0,
          "resolve": {"scale": {"color": "independent", "stroke": "independent", "x": "independent", "y": "independent"}},
          "hconcat": [
            {
              "width": 571, "height": 586,
              "title": {"text": "Curlometer", "font": "Liberation Sans", "fontSize": 84, "fontWeight": "bold", "color": "black", "anchor": "middle", "frame": "group", "dx": -26, "offset": 8.5},
              "data": {"name": "curves"},
              "transform": [{"filter": "datum.m == 'C' || datum.m == 'ref'"}],
              "encoding": {
                "x": {"field": "x", "type": "quantitative", "scale": {"type": "log", "domain": [2.98e-5, 0.41], "nice": false},
                  "axis": {"values": [0.00003,0.00004,0.00005,0.00006,0.00007,0.00008,0.00009,0.0001,0.0002,0.0003,0.0004,0.0005,0.0006,0.0007,0.0008,0.0009,0.001,0.002,0.003,0.004,0.005,0.006,0.007,0.008,0.009,0.01,0.02,0.03,0.04,0.05,0.06,0.07,0.08,0.09,0.1,0.2,0.3,0.4],
                    "labelExpr": "abs(log(datum.value)/LN10 - round(log(datum.value)/LN10)) < 0.001 ? ['10⁻⁶','10⁻⁵','10⁻⁴','10⁻³','10⁻²','10⁻¹','10⁰'][round(log(datum.value)/LN10)+6] : ''",
                    "labelOverlap": false, "labelFlush": false, "labelFont": "Liberation Serif", "labelFontSize": 25, "labelColor": "black", "labelPadding": 3,
                    "tickColor": "black", "tickWidth": 1.5, "tickSize": {"condition": {"test": "abs(log(datum.value)/LN10 - round(log(datum.value)/LN10)) < 0.001", "value": 8.7}, "value": 5},
                    "domainColor": "black", "domainWidth": 2, "grid": true,
                    "gridColor": {"condition": {"test": "abs(log(datum.value)/LN10 - round(log(datum.value)/LN10)) < 0.001", "value": "#d3d3d3"}, "value": "#ebebeb"},
                    "gridWidth": {"condition": {"test": "abs(log(datum.value)/LN10 - round(log(datum.value)/LN10)) < 0.001", "value": 1.6}, "value": 1.2},
                    "title": "|B(x) − B(x + δ)|", "titleFont": "Liberation Serif", "titleFontSize": 56, "titleFontStyle": "italic", "titleFontWeight": "normal", "titleColor": "black", "titlePadding": 9, "titleX": 274}},
                "y": {"field": "y", "type": "quantitative", "scale": {"type": "log", "domain": [2.55e-6, 1], "nice": false},
                  "axis": {"values": [0.000003,0.000004,0.000005,0.000006,0.000007,0.000008,0.000009,0.00001,0.00002,0.00003,0.00004,0.00005,0.00006,0.00007,0.00008,0.00009,0.0001,0.0002,0.0003,0.0004,0.0005,0.0006,0.0007,0.0008,0.0009,0.001,0.002,0.003,0.004,0.005,0.006,0.007,0.008,0.009,0.01,0.02,0.03,0.04,0.05,0.06,0.07,0.08,0.09,0.1,0.2,0.3,0.4,0.5,0.6,0.7,0.8,0.9,1],
                    "labelExpr": "abs(log(datum.value)/LN10 - round(log(datum.value)/LN10)) < 0.001 ? ['10⁻⁶','10⁻⁵','10⁻⁴','10⁻³','10⁻²','10⁻¹','10⁰'][round(log(datum.value)/LN10)+6] : ''",
                    "labelOverlap": false, "labelFlush": false, "labelFont": "Liberation Serif", "labelFontSize": 25, "labelColor": "black", "labelPadding": 4,
                    "tickColor": "black", "tickWidth": 1.5, "tickSize": {"condition": {"test": "abs(log(datum.value)/LN10 - round(log(datum.value)/LN10)) < 0.001", "value": 8.7}, "value": 5},
                    "domainColor": "black", "domainWidth": 2, "grid": true,
                    "gridColor": {"condition": {"test": "abs(log(datum.value)/LN10 - round(log(datum.value)/LN10)) < 0.001", "value": "#d3d3d3"}, "value": "#ebebeb"},
                    "gridWidth": {"condition": {"test": "abs(log(datum.value)/LN10 - round(log(datum.value)/LN10)) < 0.001", "value": 1.6}, "value": 1.2},
                    "title": "Probability", "titleFont": "Liberation Serif", "titleFontSize": 50, "titleFontWeight": "normal", "titleColor": "black", "titlePadding": 35}},
                "order": {"value": null}
              },
              "layer": [
                {"transform": [{"filter": "datum.k == 's'"}], "mark": {"type": "line", "clip": true, "strokeWidth": 3, "opacity": 0.6},
                  "encoding": {"color": {"field": "d", "type": "nominal", "scale": {"domain": ["80","160","240"], "range": ["#1f77b4","#ff7f0e","#2ca02c"]},
                    "legend": {"orient": "top-right", "offset": 13, "title": null, "labelExpr": "'δ = ' + datum.label + '.00km'", "labelFont": "Liberation Serif", "labelFontSize": 26, "labelColor": "black", "symbolType": "stroke", "symbolSize": 3136, "symbolStrokeWidth": 3, "symbolOpacity": 0.6, "labelOffset": 19, "padding": 10, "rowPadding": 9.5, "clipHeight": 24, "fillColor": "rgba(255,255,255,0.8)", "strokeColor": "#cccccc", "cornerRadius": 6}}}},
                {"transform": [{"filter": "datum.k == 'd'"}], "mark": {"type": "line", "clip": true, "strokeWidth": 3, "opacity": 0.7, "strokeDash": [11, 5]},
                  "encoding": {"stroke": {"field": "d", "type": "nominal", "scale": {"domain": ["80","160","240"], "range": ["#8da0cb","#fc8d62","#66c2a5"]}, "legend": null}}},
                {"transform": [{"filter": "datum.k == 'r'"}], "mark": {"type": "line", "clip": true, "strokeWidth": 3.2, "color": "#505050", "opacity": 0.9, "strokeDash": [3, 5]}, "encoding": {}}
              ]
            },
            {"width": 31, "height": 1, "data": {"values": [{}]}, "mark": {"type": "point", "opacity": 0}, "encoding": {}, "view": {"stroke": null}},
            {
              "width": 573, "height": 586,
              "title": {"text": "RBF", "font": "Liberation Sans", "fontSize": 84, "fontWeight": "bold", "color": "black", "anchor": "middle", "frame": "group", "dx": -20, "offset": 8.5},
              "data": {"name": "curves"},
              "transform": [{"filter": "datum.m == 'R' || datum.m == 'ref'"}],
              "encoding": {
                "x": {"field": "x", "type": "quantitative", "scale": {"type": "log", "domain": [2.98e-5, 0.41], "nice": false},
                  "axis": {"values": [0.00003,0.00004,0.00005,0.00006,0.00007,0.00008,0.00009,0.0001,0.0002,0.0003,0.0004,0.0005,0.0006,0.0007,0.0008,0.0009,0.001,0.002,0.003,0.004,0.005,0.006,0.007,0.008,0.009,0.01,0.02,0.03,0.04,0.05,0.06,0.07,0.08,0.09,0.1,0.2,0.3,0.4],
                    "labelExpr": "abs(log(datum.value)/LN10 - round(log(datum.value)/LN10)) < 0.001 ? ['10⁻⁶','10⁻⁵','10⁻⁴','10⁻³','10⁻²','10⁻¹','10⁰'][round(log(datum.value)/LN10)+6] : ''",
                    "labelOverlap": false, "labelFlush": false, "labelFont": "Liberation Serif", "labelFontSize": 25, "labelColor": "black", "labelPadding": 3,
                    "tickColor": "black", "tickWidth": 1.5, "tickSize": {"condition": {"test": "abs(log(datum.value)/LN10 - round(log(datum.value)/LN10)) < 0.001", "value": 8.7}, "value": 5},
                    "domainColor": "black", "domainWidth": 2, "grid": true,
                    "gridColor": {"condition": {"test": "abs(log(datum.value)/LN10 - round(log(datum.value)/LN10)) < 0.001", "value": "#d3d3d3"}, "value": "#ebebeb"},
                    "gridWidth": {"condition": {"test": "abs(log(datum.value)/LN10 - round(log(datum.value)/LN10)) < 0.001", "value": 1.6}, "value": 1.2},
                    "title": "|B(x) − B(x + δ)|", "titleFont": "Liberation Serif", "titleFontSize": 56, "titleFontStyle": "italic", "titleFontWeight": "normal", "titleColor": "black", "titlePadding": 9, "titleX": 275}},
                "y": {"field": "y", "type": "quantitative", "scale": {"type": "log", "domain": [2.55e-6, 1], "nice": false},
                  "axis": {"values": [0.000003,0.000004,0.000005,0.000006,0.000007,0.000008,0.000009,0.00001,0.00002,0.00003,0.00004,0.00005,0.00006,0.00007,0.00008,0.00009,0.0001,0.0002,0.0003,0.0004,0.0005,0.0006,0.0007,0.0008,0.0009,0.001,0.002,0.003,0.004,0.005,0.006,0.007,0.008,0.009,0.01,0.02,0.03,0.04,0.05,0.06,0.07,0.08,0.09,0.1,0.2,0.3,0.4,0.5,0.6,0.7,0.8,0.9,1],
                    "labelExpr": "abs(log(datum.value)/LN10 - round(log(datum.value)/LN10)) < 0.001 ? ['10⁻⁶','10⁻⁵','10⁻⁴','10⁻³','10⁻²','10⁻¹','10⁰'][round(log(datum.value)/LN10)+6] : ''",
                    "labelOverlap": false, "labelFlush": false, "labelFont": "Liberation Serif", "labelFontSize": 25, "labelColor": "black", "labelPadding": 4,
                    "tickColor": "black", "tickWidth": 1.5, "tickSize": {"condition": {"test": "abs(log(datum.value)/LN10 - round(log(datum.value)/LN10)) < 0.001", "value": 8.7}, "value": 5},
                    "domainColor": "black", "domainWidth": 2, "grid": true,
                    "gridColor": {"condition": {"test": "abs(log(datum.value)/LN10 - round(log(datum.value)/LN10)) < 0.001", "value": "#d3d3d3"}, "value": "#ebebeb"},
                    "gridWidth": {"condition": {"test": "abs(log(datum.value)/LN10 - round(log(datum.value)/LN10)) < 0.001", "value": 1.6}, "value": 1.2},
                    "title": null}},
                "order": {"value": null}
              },
              "layer": [
                {"transform": [{"filter": "datum.k == 's'"}], "mark": {"type": "line", "clip": true, "strokeWidth": 3, "opacity": 0.85},
                  "encoding": {"color": {"field": "d", "type": "nominal", "scale": {"domain": ["80","160","240"], "range": ["#1f77b4","#ff7f0e","#2ca02c"]},
                    "legend": {"orient": "top-right", "offset": 13, "title": null, "labelExpr": "'δ = ' + datum.label + '.00km'", "labelFont": "Liberation Serif", "labelFontSize": 26, "labelColor": "black", "symbolType": "stroke", "symbolSize": 3136, "symbolStrokeWidth": 3, "symbolOpacity": 0.85, "labelOffset": 19, "padding": 10, "rowPadding": 9.5, "clipHeight": 24, "fillColor": "rgba(255,255,255,0.8)", "strokeColor": "#cccccc", "cornerRadius": 6}}}},
                {"transform": [{"filter": "datum.k == 'd'"}], "mark": {"type": "line", "clip": true, "strokeWidth": 3, "opacity": 0.42, "strokeDash": [11, 5]},
                  "encoding": {"stroke": {"field": "d", "type": "nominal", "scale": {"domain": ["80","160","240"], "range": ["#1f77b4","#ff7f0e","#2ca02c"]}, "legend": null}}},
                {"transform": [{"filter": "datum.k == 'r'"}], "mark": {"type": "line", "clip": true, "strokeWidth": 3.2, "color": "#505050", "opacity": 0.9, "strokeDash": [3, 5]}, "encoding": {}}
              ]
            },
            {"width": 47, "height": 1, "data": {"values": [{}]}, "mark": {"type": "point", "opacity": 0}, "encoding": {}, "view": {"stroke": null}},
            {
              "width": 569, "height": 583,
              "title": {"text": "Timesync", "font": "Liberation Sans", "fontSize": 84, "fontWeight": "bold", "color": "black", "anchor": "middle", "frame": "group", "dx": -7, "offset": 14.5},
              "data": {"name": "curves"},
              "transform": [{"filter": "datum.m == 'T' || datum.m == 'ref'"}],
              "encoding": {
                "x": {"field": "x", "type": "quantitative", "scale": {"type": "log", "domain": [2.98e-5, 0.41], "nice": false},
                  "axis": {"values": [0.00003,0.00004,0.00005,0.00006,0.00007,0.00008,0.00009,0.0001,0.0002,0.0003,0.0004,0.0005,0.0006,0.0007,0.0008,0.0009,0.001,0.002,0.003,0.004,0.005,0.006,0.007,0.008,0.009,0.01,0.02,0.03,0.04,0.05,0.06,0.07,0.08,0.09,0.1,0.2,0.3,0.4],
                    "labelExpr": "abs(log(datum.value)/LN10 - round(log(datum.value)/LN10)) < 0.001 ? ['10⁻⁶','10⁻⁵','10⁻⁴','10⁻³','10⁻²','10⁻¹','10⁰'][round(log(datum.value)/LN10)+6] : ''",
                    "labelOverlap": false, "labelFlush": false, "labelFont": "Liberation Serif", "labelFontSize": 25, "labelColor": "black", "labelPadding": 3,
                    "tickColor": "black", "tickWidth": 1.5, "tickSize": {"condition": {"test": "abs(log(datum.value)/LN10 - round(log(datum.value)/LN10)) < 0.001", "value": 8.7}, "value": 5},
                    "domainColor": "black", "domainWidth": 2, "grid": true,
                    "gridColor": {"condition": {"test": "abs(log(datum.value)/LN10 - round(log(datum.value)/LN10)) < 0.001", "value": "#d3d3d3"}, "value": "#ebebeb"},
                    "gridWidth": {"condition": {"test": "abs(log(datum.value)/LN10 - round(log(datum.value)/LN10)) < 0.001", "value": 1.6}, "value": 1.2},
                    "title": "|B(x) − B(x + δ)|", "titleFont": "Liberation Serif", "titleFontSize": 56, "titleFontStyle": "italic", "titleFontWeight": "normal", "titleColor": "black", "titlePadding": 9, "titleX": 273}},
                "y": {"field": "y", "type": "quantitative", "scale": {"type": "log", "domain": [2.55e-6, 1], "nice": false},
                  "axis": {"values": [0.000003,0.000004,0.000005,0.000006,0.000007,0.000008,0.000009,0.00001,0.00002,0.00003,0.00004,0.00005,0.00006,0.00007,0.00008,0.00009,0.0001,0.0002,0.0003,0.0004,0.0005,0.0006,0.0007,0.0008,0.0009,0.001,0.002,0.003,0.004,0.005,0.006,0.007,0.008,0.009,0.01,0.02,0.03,0.04,0.05,0.06,0.07,0.08,0.09,0.1,0.2,0.3,0.4,0.5,0.6,0.7,0.8,0.9,1],
                    "labelExpr": "abs(log(datum.value)/LN10 - round(log(datum.value)/LN10)) < 0.001 ? ['10⁻⁶','10⁻⁵','10⁻⁴','10⁻³','10⁻²','10⁻¹','10⁰'][round(log(datum.value)/LN10)+6] : ''",
                    "labelOverlap": false, "labelFlush": false, "labelFont": "Liberation Serif", "labelFontSize": 25, "labelColor": "black", "labelPadding": 4,
                    "tickColor": "black", "tickWidth": 1.5, "tickSize": {"condition": {"test": "abs(log(datum.value)/LN10 - round(log(datum.value)/LN10)) < 0.001", "value": 8.7}, "value": 5},
                    "domainColor": "black", "domainWidth": 2, "grid": true,
                    "gridColor": {"condition": {"test": "abs(log(datum.value)/LN10 - round(log(datum.value)/LN10)) < 0.001", "value": "#d3d3d3"}, "value": "#ebebeb"},
                    "gridWidth": {"condition": {"test": "abs(log(datum.value)/LN10 - round(log(datum.value)/LN10)) < 0.001", "value": 1.6}, "value": 1.2},
                    "title": null}},
                "order": {"value": null}
              },
              "layer": [
                {"transform": [{"filter": "datum.k == 's'"}], "mark": {"type": "line", "clip": true, "strokeWidth": 3, "opacity": 0.85},
                  "encoding": {"color": {"field": "d", "type": "nominal", "scale": {"domain": ["80","160","240"], "range": ["#1f77b4","#ff7f0e","#2ca02c"]},
                    "legend": {"orient": "top-right", "offset": 13, "title": null, "labelExpr": "'δ = ' + datum.label + '.00km'", "labelFont": "Liberation Serif", "labelFontSize": 26, "labelColor": "black", "symbolType": "stroke", "symbolSize": 3136, "symbolStrokeWidth": 3, "symbolOpacity": 0.85, "labelOffset": 19, "padding": 10, "rowPadding": 9.5, "clipHeight": 24, "fillColor": "rgba(255,255,255,0.8)", "strokeColor": "#cccccc", "cornerRadius": 6}}}},
                {"transform": [{"filter": "datum.k == 'd'"}], "mark": {"type": "line", "clip": true, "strokeWidth": 3, "opacity": 0.42, "strokeDash": [11, 5]},
                  "encoding": {"stroke": {"field": "d", "type": "nominal", "scale": {"domain": ["80","160","240"], "range": ["#1f77b4","#ff7f0e","#2ca02c"]}, "legend": null}}},
                {"transform": [{"filter": "datum.k == 'r'"}], "mark": {"type": "line", "clip": true, "strokeWidth": 3.2, "color": "#505050", "opacity": 0.9, "strokeDash": [3, 5]}, "encoding": {}}
              ]
            }
          ]
        }
      ]
    },
    {"width": 29, "height": 1, "data": {"values": [{}]}, "mark": {"type": "point", "opacity": 0}, "encoding": {}, "view": {"stroke": null}},
    {"width": 26, "height": 831, "data": {"values": [{}]}, "mark": {"type": "point", "opacity": 0}, "encoding": {}, "view": {"fill": "#0e2249", "stroke": null}},
    {"width": 20, "height": 831, "data": {"values": [{}]}, "mark": {"type": "point", "opacity": 0}, "encoding": {}, "view": {"fill": "#dfe6e9", "stroke": null}}
  ]
}
